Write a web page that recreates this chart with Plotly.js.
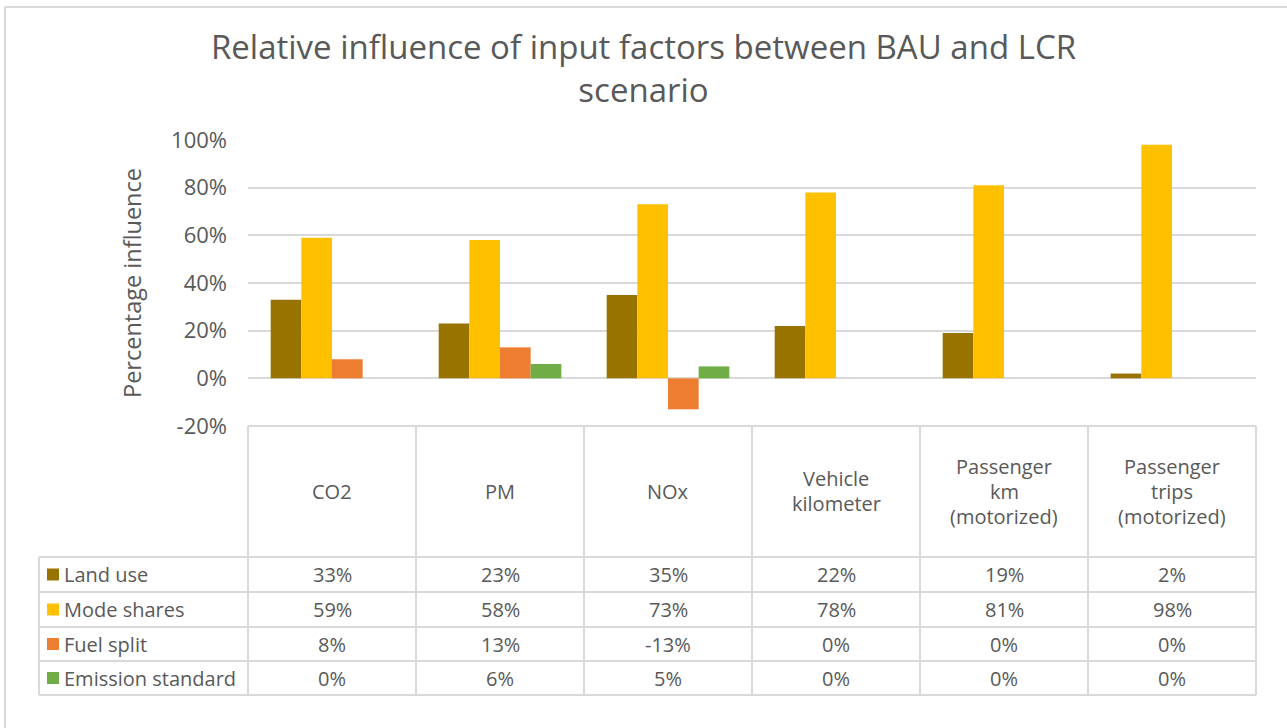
<!DOCTYPE html>
<html><head><meta charset="utf-8">
<script src="https://cdn.plot.ly/plotly-3.0.1.min.js"></script>
<style>html,body{margin:0;padding:0;background:#fff;} #chart{width:1287px;height:728px;}</style>
</head><body><div id="chart"></div>
<script>
const categories = ["CO2","PM","NOx","Vehicle<br>kilometer","Passenger<br>km<br>(motorized)","Passenger<br>trips<br>(motorized)"];
const seriesNames = ["Land use","Mode shares","Fuel split","Emission standard"];
const landUse = [33,23,35,22,19,2];
const modeShares = [59,58,73,78,81,98];
const fuelSplit = [8,13,-13,0,0,0];
const emissionStandard = [0,6,5,0,0,0];
const tickValues = [-20,0,20,40,60,80,100];
const tickLabels = ["-20%","0%","20%","40%","60%","80%","100%"];
const colors = ["#997300","#FFC000","#ED7D31","#70AD47"];

const series = [landUse, modeShares, fuelSplit, emissionStandard];
const W = 1287, H = 728, L = 248, R = 1256, T = 140, B = 426;
const px2x = p => (p - L) / (R - L);
const py2y = p => (B - p) / (B - T);
const FONT = "'Open Sans', Lato, sans-serif";
const TXT = "#595959";
const LINE = "#d9d9d9";

const traces = series.map((vals, k) => ({
  type: "bar", name: seriesNames[k], x: categories, y: vals,
  marker: {color: colors[k], line: {width: 0}},
  hoverinfo: "name+y"
}));

const shapes = [];
const annotations = [];
function hline(y, x0, x1) {
  shapes.push({type: "line", xref: "paper", yref: "paper", x0: x0, x1: x1, y0: y, y1: y, line: {color: LINE, width: 2}});
}
function vline(x, y0, y1) {
  shapes.push({type: "line", xref: "paper", yref: "paper", x0: x, x1: x, y0: y0, y1: y1, line: {color: LINE, width: 2}});
}
const rowEdges = [557, 592, 627, 661, 695];
const n = categories.length;
for (let i = 0; i <= n; i++) vline(i / n, 0, py2y(695));
vline(px2x(39), py2y(557), py2y(695));
hline(0, 0, 1);
rowEdges.forEach(r => hline(py2y(r), px2x(39), 1));
// frame
shapes.push({type: "line", xref: "paper", yref: "paper", x0: px2x(5), x1: px2x(1290), y0: py2y(7), y1: py2y(7), line: {color: LINE, width: 2}});
shapes.push({type: "line", xref: "paper", yref: "paper", x0: px2x(5), x1: px2x(5), y0: py2y(7), y1: py2y(730), line: {color: LINE, width: 2}});

// header cell labels, one annotation per text line (25px line pitch)
categories.forEach((c, i) => {
  const lines = c.split("<br>");
  lines.forEach((ln, j) => {
    const yc = 491 + (j - (lines.length - 1) / 2) * 25;
    annotations.push({xref: "paper", yref: "paper", x: (i + 0.5) / n, y: py2y(yc), text: ln, showarrow: false,
      xanchor: "center", yanchor: "middle", align: "center", font: {family: FONT, size: 20, color: TXT}});
  });
});
series.forEach((vals, k) => {
  const yc = py2y((rowEdges[k] + rowEdges[k + 1]) / 2);
  shapes.push({type: "rect", xref: "paper", yref: "paper", x0: px2x(47), x1: px2x(59),
    y0: yc - 6 / (B - T), y1: yc + 6 / (B - T), fillcolor: colors[k], line: {width: 0}});
  annotations.push({xref: "paper", yref: "paper", x: px2x(62), y: yc, text: seriesNames[k], showarrow: false,
    xanchor: "left", yanchor: "middle", font: {family: FONT, size: 20, color: TXT}});
  vals.forEach((v, i) => {
    annotations.push({xref: "paper", yref: "paper", x: (i + 0.5) / n, y: yc, text: v + "%", showarrow: false,
      xanchor: "center", yanchor: "middle", font: {family: FONT, size: 20, color: TXT}});
  });
});

const layout = {
  width: W, height: H,
  margin: {l: L, r: W - R, t: T, b: H - B, pad: 0},
  paper_bgcolor: "#ffffff", plot_bgcolor: "#ffffff",
  showlegend: false,
  barmode: "group", bargap: 0.27, bargroupgap: 0,
  title: {text: "Relative influence of input factors between BAU and LCR<br>scenario",
    font: {family: FONT, size: 33, color: TXT}, x: 0.5, xref: "container", xanchor: "center",
    y: (H - 59) / H, yref: "container", yanchor: "middle"},
  xaxis: {type: "category", showticklabels: false, showgrid: false, zeroline: false, showline: false, ticks: "", fixedrange: true},
  yaxis: {range: [-20, 100], tickvals: tickValues, ticktext: tickLabels, showgrid: true, gridcolor: LINE, gridwidth: 2,
    zeroline: false, showline: false, ticks: "", ticklabelstandoff: 20,
    tickfont: {family: FONT, size: 22, color: TXT},
    title: {text: "Percentage influence", font: {family: FONT, size: 23.5, color: TXT}, standoff: 22}, fixedrange: true},
  shapes: shapes, annotations: annotations,
  font: {family: FONT, color: TXT}
};
Plotly.newPlot("chart", traces, layout, {displayModeBar: false, staticPlot: true});
</script></body></html>
